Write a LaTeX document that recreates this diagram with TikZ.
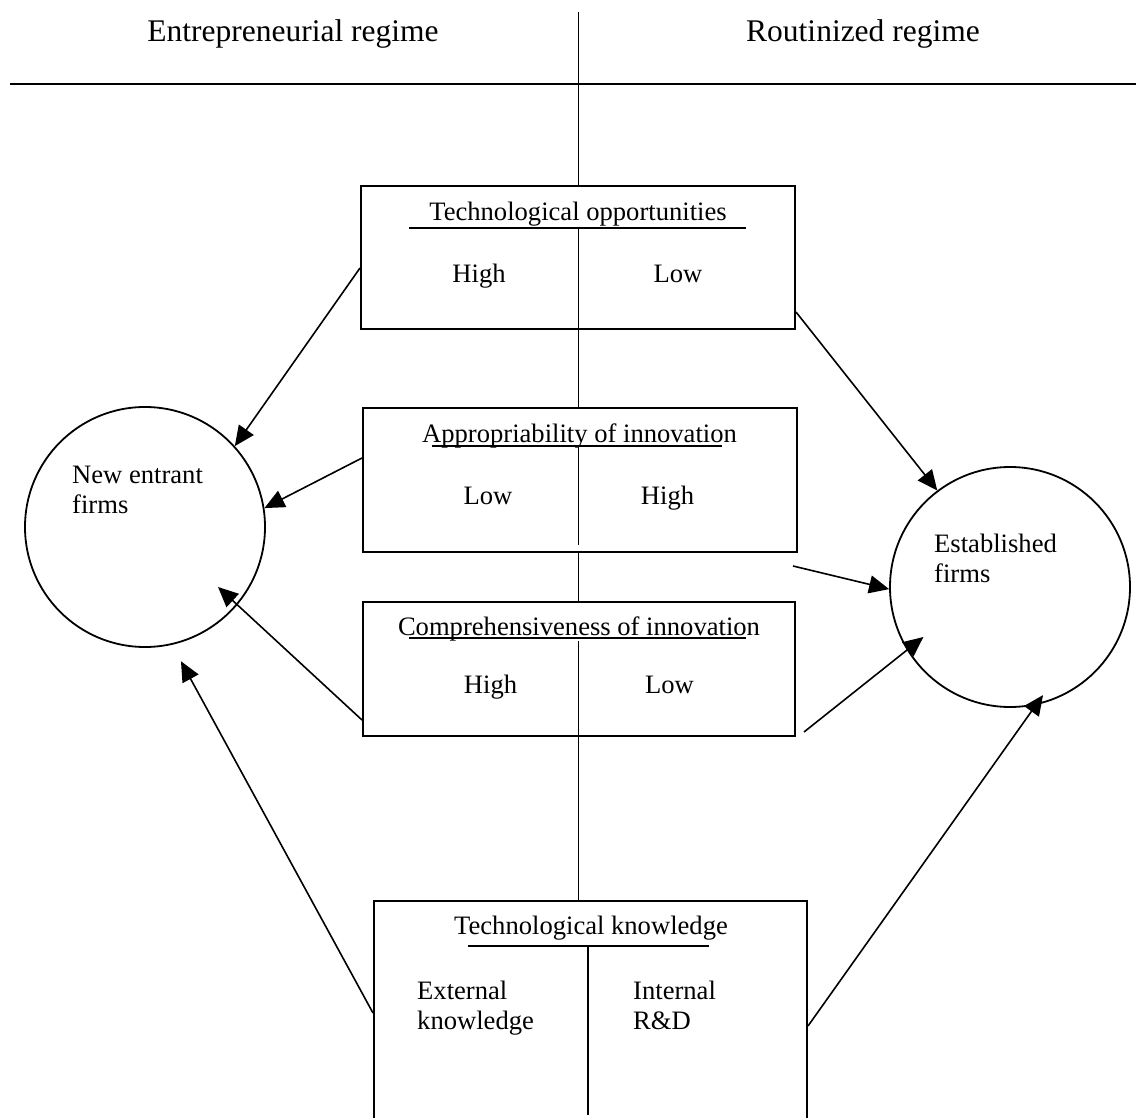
\documentclass[tikz,border=0pt]{standalone}
\usepackage{fontspec}
\setmainfont{Liberation Serif}
\usetikzlibrary{arrows.meta,calc}
\begin{document}
\begin{tikzpicture}[x=1pt,y=-1pt,
  regbox/.style={draw,line width=2pt,inner sep=0pt},
  boxtext/.style={font=\fontsize{26.6}{29.5}\selectfont,inner sep=0pt},
  headtext/.style={font=\fontsize{31.5}{36}\selectfont,inner sep=0pt},
  arr/.style={line width=1.6pt,-{Triangle[length=20pt,width=18pt]}},
  firm/.style={draw,circle,line width=1.8pt,minimum size=240pt,inner sep=0pt},
  rule/.style={line width=1.6pt},
  spine/.style={line width=1.9pt}]
\useasboundingbox (0,0) rectangle (1136,1118);
\fill[white] (0,0) rectangle (1136,1118);
\clip (0,0) rectangle (1136,1118);

% regime headings and dividing lines
\node[headtext,anchor=base] (ent) at (293,42) {Entrepreneurial regime};
\node[headtext,anchor=base] (rout) at (863,42) {Routinized regime};
\coordinate (hl) at (10,84);
\coordinate (hr) at (1136,84);
\draw[line width=2.6pt] (hl) -- (hr);
\coordinate (top) at (578.5,12);

% dimension boxes
\node[regbox,minimum width=434pt,minimum height=143pt] (b1) at (578,257.5) {};
\node[regbox,minimum width=434pt,minimum height=144pt] (b2) at (580,480) {};
\node[regbox,minimum width=432pt,minimum height=134pt] (b3) at (579,669) {};
\node[regbox,minimum width=433pt,minimum height=229pt] (b4) at (590.5,1015.5) {};

% box titles and values
\node[boxtext,anchor=base] (t1) at (578,221) {Technological opportunities};
\node[boxtext,anchor=base] (h1) at (479,283) {High};
\node[boxtext,anchor=base] (l1) at (678,283) {Low};
\draw[rule] (409,228) -- (746,228);

\node[boxtext,anchor=base] (t2) at (579.5,442) {Appropriability of innovation};
\node[boxtext,anchor=base] (l2) at (488,504) {Low};
\node[boxtext,anchor=base] (h2) at (667.5,504) {High};
\draw[rule] (432,446) -- (722,446);

\node[boxtext,anchor=base] (t3) at (579,635) {Comprehensiveness of innovation};
\node[boxtext,anchor=base] (h3) at (490.5,693) {High};
\node[boxtext,anchor=base] (l3) at (669.5,693) {Low};
\draw[rule] (409,638) -- (746,638);

\node[boxtext,anchor=base] (t4) at (591,934) {Technological knowledge};
\node[boxtext,anchor=base west,align=left] (ext) at (417,1029) {External\\knowledge};
\node[boxtext,anchor=base west,align=left] (int) at (633,1029) {Internal\\R\&D};
\draw[rule] (468,946) -- (709,946);

% central spine
\draw[spine] (top) -- (top |- b1.north);
\draw[spine] (578.5,228) -- (b2.north -| top);
\draw[spine] (578.5,446) -- (578.5,545);
\draw[spine] (b2.south -| top) -- (b3.north -| top);
\draw[spine] (578.5,641) -- (b4.north -| top);
\draw[spine] (588,946) -- (588,1115);

% firm types
\node[firm] (nl) at (145,527) {};
\node[firm] (nr) at (1010,587) {};
\node[boxtext,anchor=base west,align=left] (nlt) at (72,513) {New entrant\\firms};
\node[boxtext,anchor=base west,align=left] (nrt) at (934,582) {Established\\firms};

% influences on new entrants
\draw[arr] ([yshift=-10.5pt]b1.west) -- (nl.42);
\draw[arr] ([yshift=22pt]b2.west) -- (nl.9);
\draw[arr] ([yshift=-51pt]b3.west) -- ($(nl.center)+(-39.4:94.5pt)$);
\draw[arr] ([yshift=2.5pt]b4.west) -- ($(nl.center)+(-75:139pt)$);

% influences on established firms
\coordinate (s6) at (793,566);
\coordinate (s7) at (804,732);
\draw[arr] ([yshift=-54.5pt]b1.east) -- (nr.127);
\draw[arr] (s6) -- (nr.181);
\draw[arr] (s7) -- ($(nr.center)+(210:100pt)$);
\draw[arr] ([yshift=-10.5pt]b4.east) -- ($(nr.center)+(-73:113pt)$);
\end{tikzpicture}
\end{document}
